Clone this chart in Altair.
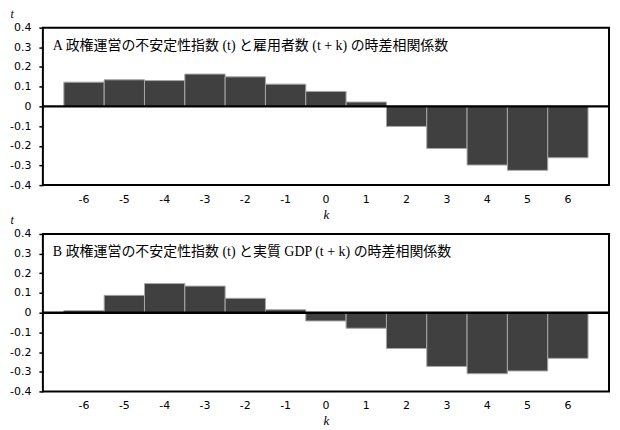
import altair as alt
import pandas as pd

ks = [-6, -5, -4, -3, -2, -1, 0, 1, 2, 3, 4, 5, 6]
emp_corr = [0.123, 0.135, 0.131, 0.164, 0.150, 0.113, 0.076, 0.022,
            -0.102, -0.214, -0.298, -0.325, -0.261]
gdp_corr = [0.010, 0.088, 0.148, 0.135, 0.073, 0.015, -0.042, -0.079,
            -0.182, -0.273, -0.310, -0.296, -0.232]
y_ticks = [-0.4, -0.3, -0.2, -0.1, 0.0, 0.1, 0.2, 0.3, 0.4]
title_a = "A  政権運営の不安定性指数 (t) と雇用者数 (t + k) の時差相関係数"
title_b = "B  政権運営の不安定性指数 (t) と実質 GDP (t + k) の時差相関係数"

LABEL_FONT = "DejaVu Sans"
SERIF = "Liberation Serif"


def y_axis():
    return alt.Axis(
        values=y_ticks, labelOverlap=False, labelBound=False,
        labelFlush=False,
        labelExpr="abs(datum.value) < 1e-9 ? '0' : (datum.value < 0 ? '-' : '') + format(abs(datum.value), '.1f')",
        grid=False, domain=False, tickSize=4, tickWidth=1.5,
        tickColor="black", labelPadding=8, labelFont=LABEL_FONT,
        labelFontSize=11, labelColor="black",
        title="t", titleAngle=0, titleFont=SERIF,
        titleFontStyle="italic", titleFontWeight="normal",
        titleFontSize=12, titleColor="black", titleAlign="left",
        titleBaseline="alphabetic", titleX=-33, titleY=-10.5,
    )


def panel(vals, label):
    df = pd.DataFrame({"k": ks, "r": vals})
    yscale = alt.Scale(domain=[-0.4, 0.4], nice=False, zero=False)
    bars = alt.Chart(df).mark_bar(
        color="#404040", stroke="#a6a6a6", strokeWidth=1
    ).encode(
        x=alt.X(
            "k:O",
            sort=ks,
            scale=alt.Scale(paddingInner=0, paddingOuter=0.52),
            axis=alt.Axis(
                title="k", labelAngle=0, ticks=False, domain=False,
                labelPadding=8, labelFont=LABEL_FONT, labelFontSize=11,
                labelColor="black", titleFont=SERIF, titleFontStyle="italic",
                titleFontWeight="normal", titleFontSize=13, titlePadding=4,
                titleColor="black",
            ),
        ),
        y=alt.Y("r:Q", scale=yscale, axis=y_axis()),
    )
    zero = alt.Chart(pd.DataFrame({"r": [0.0]})).mark_rule(
        color="black", strokeWidth=2.5
    ).encode(y=alt.Y("r:Q", scale=yscale, axis=y_axis()))
    txt = alt.Chart(pd.DataFrame({"t": [label]})).mark_text(
        align="left", baseline="alphabetic", fontSize=14,
        font=f"{SERIF}, Noto Sans CJK JP", color="black",
    ).encode(x=alt.value(10), y=alt.value(22), text="t:N")
    return alt.layer(bars, zero, txt).properties(width=568, height=158)


chart = alt.vconcat(
    panel(emp_corr, title_a), panel(gdp_corr, title_b),
    spacing=49, bounds="flush",
).configure_view(stroke="black", strokeWidth=2).properties(
    padding={"left": 0, "top": -3, "right": 0, "bottom": 0}
)

chart.save("out.html", embed_options={"renderer": "svg", "actions": False})
